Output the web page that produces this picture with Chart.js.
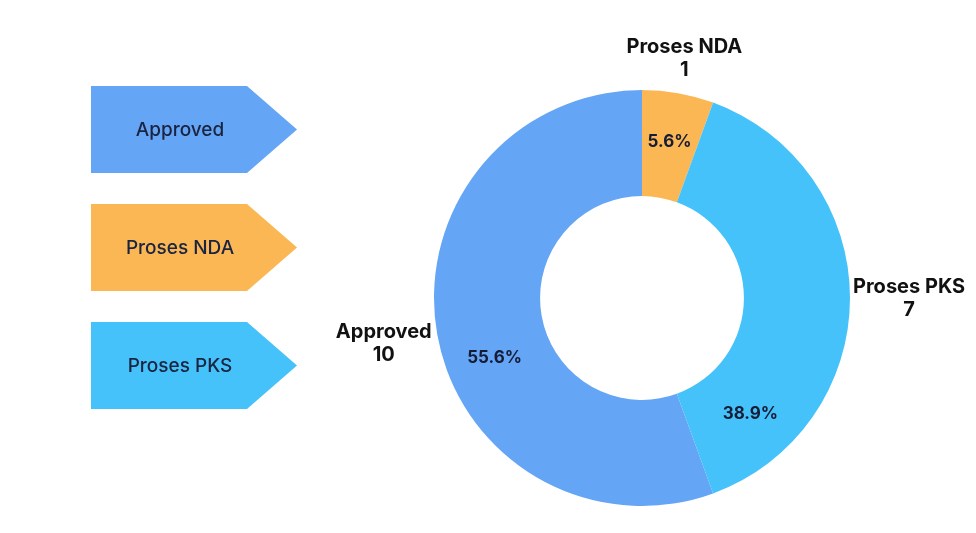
<!DOCTYPE html>
<html>
<head>
<meta charset="utf-8">
<script src="https://cdn.jsdelivr.net/npm/chart.js@4"></script>
<style>
  html, body { margin: 0; padding: 0; background: #fff; }
  #wrap { width: 976px; height: 533px; }
</style>
</head>
<body>
<div id="wrap"><canvas id="chart" width="976" height="533"></canvas></div>
<script>
// data
const categories = ["Approved", "Proses NDA", "Proses PKS"];
const counts = [10, 1, 7];
const colors = ["#64a5f6", "#fbb754", "#45c2fa"];

const total = counts.reduce((a, b) => a + b, 0);

// where the percent text sits along each ring (degrees, 0 = right, clockwise); null = middle of slice
const pctAngle = [158, null, 47];

const sliceLabels = {
  id: "sliceLabels",
  afterDatasetsDraw(chart) {
    const ctx = chart.ctx;
    const meta = chart.getDatasetMeta(0);
    meta.data.forEach((arc, i) => {
      const p = arc.getProps(["x", "y", "startAngle", "endAngle", "innerRadius", "outerRadius"], true);
      const mid = (p.startAngle + p.endAngle) / 2;

      // percentage inside the ring
      const a = pctAngle[i] == null ? mid : pctAngle[i] * Math.PI / 180;
      const rMid = (p.innerRadius + p.outerRadius) / 2 + 4;
      const pct = (counts[i] / total * 100).toFixed(1) + "%";
      ctx.save();
      ctx.font = "bold 17px Inter";
      ctx.fillStyle = "#141c36";
      ctx.textAlign = "center";
      ctx.textBaseline = "middle";
      ctx.fillText(pct, p.x + Math.cos(a) * rMid, p.y + Math.sin(a) * rMid);

      // name + count outside
      ctx.font = "bold 20px Inter";
      ctx.fillStyle = "#111111";
      const lines = [categories[i], String(counts[i])];
      const w = Math.max(...lines.map(t => ctx.measureText(t).width));
      const lh = 23;
      const h = lh * lines.length;
      const cx0 = p.x + Math.cos(mid) * (p.outerRadius + 3);
      const cy0 = p.y + Math.sin(mid) * (p.outerRadius + 3);
      const off = (w / 2) * Math.abs(Math.cos(mid)) + (h / 2) * Math.abs(Math.sin(mid));
      const cx = cx0 + Math.cos(mid) * off;
      const cy = cy0 + Math.sin(mid) * off;
      lines.forEach((t, k) => {
        ctx.fillText(t, cx, cy - h / 2 + lh / 2 + k * lh);
      });
      ctx.restore();
    });
  }
};

const arrowLegend = {
  id: "arrowLegend",
  afterDraw(chart) {
    const ctx = chart.ctx;
    const left = 91, rectW = 156, tipW = 50, boxH = 87, top0 = 86, step = 118;
    categories.forEach((name, i) => {
      const top = top0 + i * step;
      ctx.save();
      ctx.beginPath();
      ctx.moveTo(left, top);
      ctx.lineTo(left + rectW, top);
      ctx.lineTo(left + rectW + tipW, top + boxH / 2);
      ctx.lineTo(left + rectW, top + boxH);
      ctx.lineTo(left, top + boxH);
      ctx.closePath();
      ctx.fillStyle = colors[i];
      ctx.fill();
      ctx.font = "500 19px Inter";
      ctx.fillStyle = "#1a2440";
      ctx.textAlign = "center";
      ctx.textBaseline = "middle";
      ctx.fillText(name, 180, top + boxH / 2 + 1);
      ctx.restore();
    });
  }
};

new Chart(document.getElementById("chart"), {
  type: "doughnut",
  data: {
    labels: categories,
    datasets: [{
      data: counts,
      backgroundColor: colors,
      borderWidth: 0
    }]
  },
  options: {
    responsive: false,
    animation: false,
    rotation: 160,
    cutout: "49%",
    layout: { padding: { left: 434, right: 126, top: 90, bottom: 27 } },
    plugins: {
      legend: { display: false },
      tooltip: { enabled: false }
    }
  },
  plugins: [sliceLabels, arrowLegend]
});
</script>
</body>
</html>
